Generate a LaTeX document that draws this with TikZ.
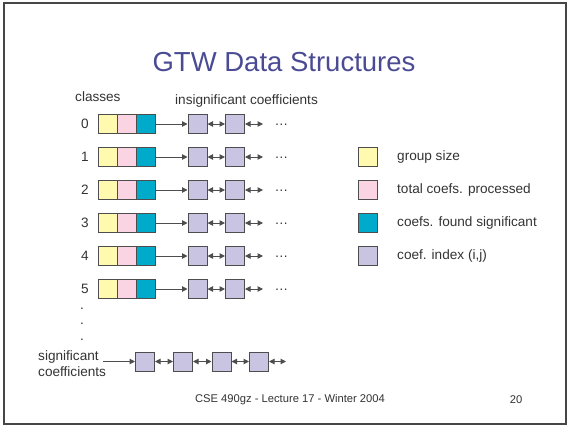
\documentclass[tikz,border=0pt]{standalone}
\usepackage{fontspec}
\setmainfont{Liberation Sans}
\usetikzlibrary{arrows.meta}
\definecolor{cyel}{RGB}{255,250,175}
\definecolor{cpink}{RGB}{250,212,226}
\definecolor{cteal}{RGB}{0,170,202}
\definecolor{clav}{RGB}{200,196,226}
\definecolor{cline}{RGB}{77,77,77}
\definecolor{ctext}{RGB}{51,51,51}
\definecolor{ctitle}{RGB}{75,75,148}
\definecolor{cframe}{RGB}{70,70,70}
\tikzset{
  cell/.style={draw=cline, line width=1pt, minimum size=19pt, inner sep=0pt},
  lbl/.style={text=ctext, font=\fontsize{13.6}{16}\selectfont, inner sep=0pt},
  conn/.style={draw=cline, line width=1pt},
  sarr/.style={conn, -{Triangle[length=5.5pt,width=5.5pt]}},
  darr/.style={conn, {Triangle[length=5.5pt,width=5.5pt]}-{Triangle[length=5.5pt,width=5.5pt]}},
}
\begin{document}
\begin{tikzpicture}[x=1pt,y=-1pt]
\useasboundingbox (0,0) rectangle (568,426);
\draw[cframe, line width=2pt] (4,3) rectangle (566,424);
\node[text=ctitle, font=\fontsize{27.5}{32}\selectfont, inner sep=0pt] (title) at (284,62) {GTW Data Structures};
\node[lbl, anchor=west] (classes) at (75,97) {classes};
\node[lbl, anchor=west] (insig) at (175,101) {insignificant coefficients};
\foreach \i in {0,...,5}{
  \pgfmathsetmacro{\yy}{124+33*\i}
  \node[lbl] (n\i) at (85,\yy) {\i};
  \node[cell, fill=cyel] (a\i) at (107.5,\yy) {};
  \node[cell, fill=cpink] (b\i) at (126.5,\yy) {};
  \node[cell, fill=cteal] (c\i) at (145.5,\yy) {};
  \node[cell, fill=clav] (p\i) at (197.5,\yy) {};
  \node[cell, fill=clav] (q\i) at (235,\yy) {};
  \coordinate (e\i) at (263,\yy);
  \node[lbl, anchor=base] (d\i) at (281.5,\yy+1.5) {…};
  \draw[sarr] (c\i.east) -- (p\i.west);
  \draw[darr] (p\i.east) -- (q\i.west);
  \draw[darr] (q\i.east) -- (e\i);
}
% legend
\node[cell, fill=cyel] (l1) at (367.5,157) {};
\node[cell, fill=cpink] (l2) at (367.5,190) {};
\node[cell, fill=cteal] (l3) at (367.5,223) {};
\node[cell, fill=clav] (l4) at (367.5,256) {};
\node[lbl, anchor=west] (t1) at (397,157) {group size};
\node[lbl, anchor=west] (t2) at (397,190) {total coefs. processed};
\node[lbl, anchor=west] (t3) at (397,223) {coefs. found significant};
\node[lbl, anchor=west] (t4) at (397,256) {coef. index (i,j)};
% vertical dots
\node[lbl, anchor=base] (v1) at (82,309) {.};
\node[lbl, anchor=base] (v2) at (82,324.5) {.};
\node[lbl, anchor=base] (v3) at (82,340) {.};
% significant coefficients list
\node[lbl, anchor=west] (sig1) at (38,357) {significant};
\node[lbl, anchor=west] (sig2) at (38,372) {coefficients};
\coordinate (s0) at (103,361.5);
\node[cell, fill=clav] (r1) at (145,361.5) {};
\node[cell, fill=clav] (r2) at (183,361.5) {};
\node[cell, fill=clav] (r3) at (221.5,361.5) {};
\node[cell, fill=clav] (r4) at (259,361.5) {};
\coordinate (r5) at (286,361.5);
\draw[sarr] (s0) -- (r1.west);
\draw[darr] (r1.east) -- (r2.west);
\draw[darr] (r2.east) -- (r3.west);
\draw[darr] (r3.east) -- (r4.west);
\draw[darr] (r4.east) -- (r5);
% footer
\node[text=ctext, font=\fontsize{11.2}{13}\selectfont, inner sep=0pt] (foot) at (290,400) {CSE 490gz - Lecture 17 - Winter 2004};
\node[text=ctext, font=\fontsize{11.2}{13}\selectfont, inner sep=0pt] (page) at (516,400) {20};
\end{tikzpicture}
\end{document}
